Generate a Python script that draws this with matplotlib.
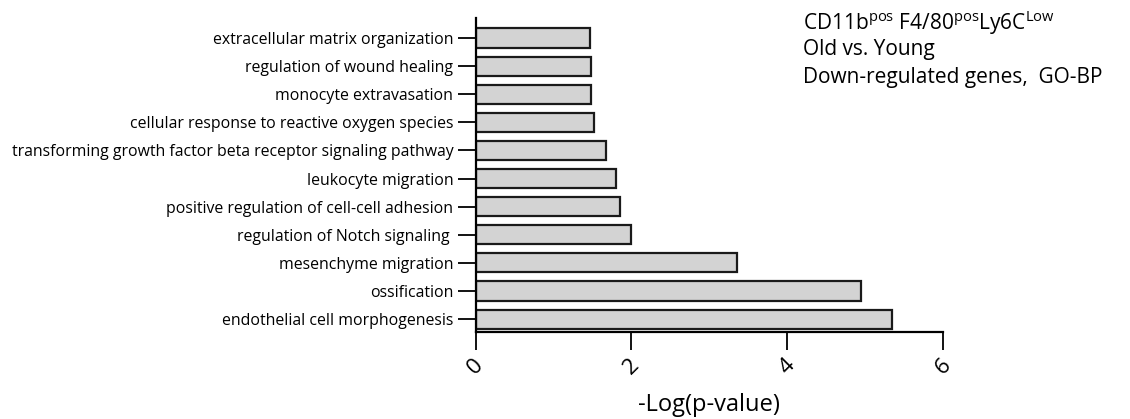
import matplotlib
matplotlib.use("Agg")
import matplotlib.pyplot as plt

plt.rcParams["font.family"] = ["Open Sans", "DejaVu Sans"]
plt.rcParams["mathtext.fontset"] = "custom"
plt.rcParams["mathtext.rm"] = "Open Sans"

terms = [
    "endothelial cell morphogenesis",
    "ossification",
    "mesenchyme migration",
    "regulation of Notch signaling ",
    "positive regulation of cell-cell adhesion",
    "leukocyte migration",
    "transforming growth factor beta receptor signaling pathway",
    "cellular response to reactive oxygen species",
    "monocyte extravasation",
    "regulation of wound healing",
    "extracellular matrix organization",
]
neg_log_p = [5.35, 4.95, 3.35, 2.0, 1.86, 1.80, 1.67, 1.52, 1.48, 1.48, 1.47]
xticks = [0, 2, 4, 6]

fig = plt.figure(figsize=(11.3, 4.19), dpi=100)
ax = fig.add_axes([0.4208, 0.2076, 0.4137, 0.7494])

ypos = list(range(len(terms)))
ax.barh(ypos, neg_log_p, height=0.68, color="#d3d3d3",
        edgecolor="#1a1a1a", linewidth=1.6)

ax.set_xlim(0, 6)
ax.set_ylim(-0.46, len(terms) - 1 + 0.71)
ax.set_yticks(ypos)
ax.set_yticklabels(terms, fontsize=11.4)
ax.set_xticks(xticks)
ax.set_xticklabels([str(t) for t in xticks], fontsize=16, rotation=45,
                   ha="center", va="top")
ax.tick_params(axis="y", length=13, width=1.3, pad=3)
ax.tick_params(axis="x", length=13, width=1.3, pad=3)
ax.set_xlabel("-Log(p-value)", fontsize=17, labelpad=11)

for side in ["top", "right"]:
    ax.spines[side].set_visible(False)
for side in ["left", "bottom"]:
    ax.spines[side].set_linewidth(1.6)

title_x = 0.711
fig.text(title_x, 0.946,
         "CD11b$^{\\mathrm{pos}}$ F4/80$^{\\mathrm{pos}}$Ly6C$^{\\mathrm{Low}}$",
         fontsize=15, va="center", ha="left")
fig.text(title_x, 0.881, "Old vs. Young", fontsize=15, va="center", ha="left")
fig.text(title_x, 0.814, "Down-regulated genes,  GO-BP", fontsize=15,
         va="center", ha="left")

fig.savefig("out.png", dpi=100)
